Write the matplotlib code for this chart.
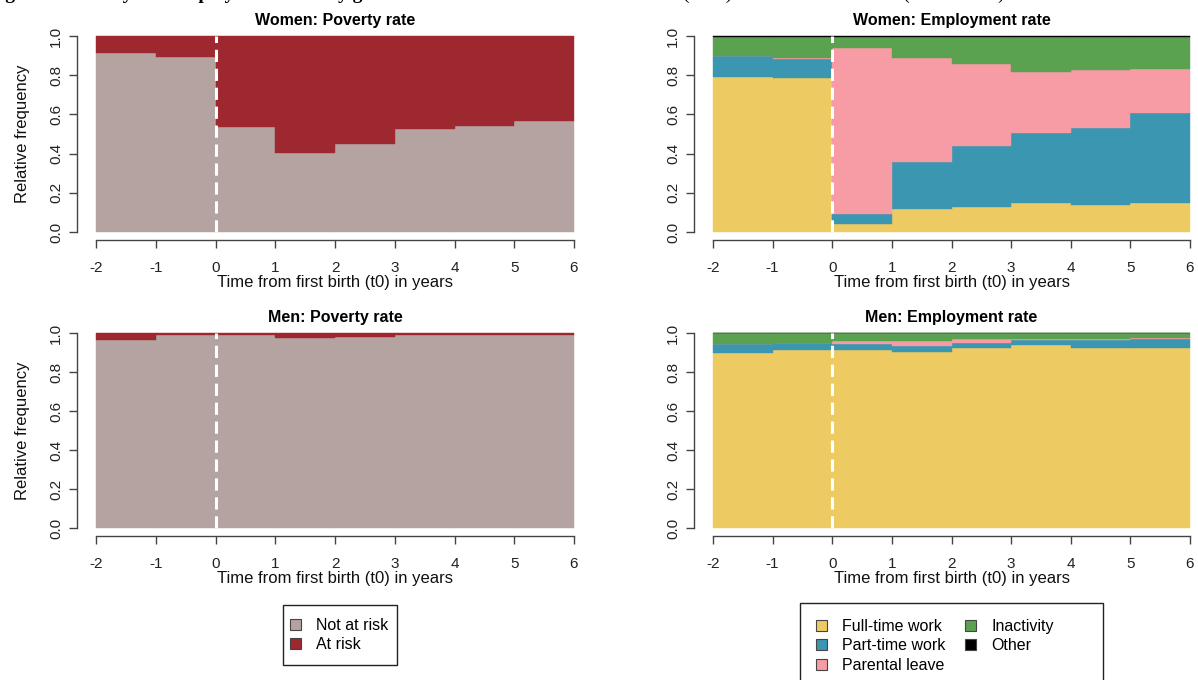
import matplotlib.pyplot as plt
from matplotlib.patches import Patch, Rectangle
import numpy as np

plt.rcParams['font.family'] = ['Liberation Sans', 'DejaVu Sans']

W, H = 1198, 680

years = [-2, -1, 0, 1, 2, 3, 4, 5]
xticks = [-2, -1, 0, 1, 2, 3, 4, 5, 6]

# poverty shares (not at risk / at risk)
women_not_risk = [0.911, 0.891, 0.537, 0.404, 0.451, 0.523, 0.540, 0.567]
women_risk = [0.089, 0.109, 0.463, 0.596, 0.549, 0.477, 0.460, 0.433]
men_not_risk = [0.966, 0.988, 0.988, 0.973, 0.978, 0.988, 0.988, 0.988]
men_risk = [0.034, 0.012, 0.012, 0.027, 0.022, 0.012, 0.012, 0.012]

# employment shares
women_ft = [0.792, 0.784, 0.043, 0.116, 0.128, 0.150, 0.140, 0.150]
women_pt = [0.106, 0.097, 0.047, 0.239, 0.310, 0.356, 0.392, 0.455]
women_pl = [0.000, 0.005, 0.847, 0.531, 0.417, 0.312, 0.294, 0.226]
women_inact = [0.099, 0.111, 0.060, 0.111, 0.142, 0.179, 0.171, 0.166]
women_other = [0.003, 0.003, 0.003, 0.003, 0.003, 0.003, 0.003, 0.003]

men_ft = [0.897, 0.915, 0.915, 0.901, 0.923, 0.937, 0.923, 0.923]
men_pt = [0.047, 0.034, 0.030, 0.031, 0.026, 0.025, 0.043, 0.048]
men_pl = [0.000, 0.000, 0.012, 0.025, 0.022, 0.009, 0.005, 0.002]
men_inact = [0.054, 0.049, 0.041, 0.041, 0.027, 0.027, 0.027, 0.025]
men_other = [0.002, 0.002, 0.002, 0.002, 0.002, 0.002, 0.002, 0.002]

pov_labels = ['Not at risk', 'At risk']
pov_colors = ['#b5a3a2', '#9e2830']
emp_labels = ['Full-time work', 'Part-time work', 'Parental leave', 'Inactivity', 'Other']
emp_colors = ['#eecb62', '#3a96b1', '#f79ba4', '#5aa150', '#000000']

XLIM = (-2.32, 6.32)
YLIM = (-0.04, 1.04)


def make_axes(fig, xm2, x6, y1, y0):
    # pixel positions of x=-2, x=6, y=1, y=0 -> axes rectangle
    sx = (x6 - xm2) / 8.0
    sy = (y0 - y1) / 1.0
    left = xm2 + (XLIM[0] + 2) * sx
    right = x6 + (XLIM[1] - 6) * sx
    top = y1 - (YLIM[1] - 1) * sy
    bot = y0 + (0 - YLIM[0]) * sy
    return fig.add_axes([left / W, 1 - bot / H, (right - left) / W, (bot - top) / H])


def stacked(ax, shares, colors, title, ylabel=True):
    bottom = np.zeros(len(years))
    for s, c in zip(shares, colors):
        ax.bar(years, s, width=1.0, align='edge', bottom=bottom, color=c,
               edgecolor=c, linewidth=0.3)
        bottom += np.array(s)
    ax.plot([0, 0], [0, 1], color='white', lw=2.2, ls=(0, (4, 2.2)))
    ax.set_xlim(*XLIM)
    ax.set_ylim(*YLIM)
    for s in ['top', 'right']:
        ax.spines[s].set_visible(False)
    ax.spines['left'].set_bounds(0, 1)
    ax.spines['bottom'].set_bounds(-2, 6)
    for s in ['left', 'bottom']:
        ax.spines[s].set_color('#444444')
        ax.spines[s].set_linewidth(1.0)
    ax.set_xticks(xticks)
    ax.set_xticklabels([str(t) for t in xticks])
    ax.set_yticks([0, 0.2, 0.4, 0.6, 0.8, 1.0])
    ax.set_yticklabels(['0.0', '0.2', '0.4', '0.6', '0.8', '1.0'], rotation=90, va='center')
    ax.tick_params(length=6, width=1, color='#444444', labelcolor='#222222',
                   labelsize=11, pad=4)
    ax.tick_params(axis='x', pad=9)
    ax.set_title(title, fontsize=11.5, fontweight='bold', pad=2)
    ax.set_xlabel('Time from first birth (t0) in years', fontsize=12, labelpad=0,
                  color='#111111')
    if ylabel:
        ax.set_ylabel('Relative frequency', fontsize=12, labelpad=14, color='#111111')


fig = plt.figure(figsize=(W / 100, H / 100), dpi=100)

ax1 = make_axes(fig, 96, 574, 36, 232)
stacked(ax1, [women_not_risk, women_risk], pov_colors, 'Women: Poverty rate')

ax2 = make_axes(fig, 713, 1190, 36, 232)
stacked(ax2, [women_ft, women_pt, women_pl, women_inact, women_other], emp_colors,
        'Women: Employment rate', ylabel=False)

ax3 = make_axes(fig, 96, 574, 333, 528)
stacked(ax3, [men_not_risk, men_risk], pov_colors, 'Men: Poverty rate')

ax4 = make_axes(fig, 713, 1190, 333, 528)
stacked(ax4, [men_ft, men_pt, men_pl, men_inact, men_other], emp_colors,
        'Men: Employment rate', ylabel=False)


def boxed_legend(handles, labels, x_handle, y_top, box, ncol=1):
    leg = fig.legend(handles, labels, loc='upper left', ncol=ncol,
                     bbox_to_anchor=(x_handle / W, 1 - y_top / H), fontsize=11.5,
                     frameon=False, handlelength=0.7, handleheight=0.7,
                     handletextpad=0.95, labelspacing=0.28, borderpad=0,
                     borderaxespad=0, columnspacing=1.2)
    x0, y0, x1, y1 = box
    fig.patches.append(Rectangle((x0 / W, 1 - y1 / H), (x1 - x0) / W, (y1 - y0) / H,
                                 transform=fig.transFigure, fill=False,
                                 edgecolor='#222222', linewidth=1.0))
    return leg


h_pov = [Patch(facecolor=c, edgecolor='#444444', linewidth=0.8) for c in pov_colors]
boxed_legend(h_pov, pov_labels, 290, 618, (283, 605, 397, 665))

h_emp = [Patch(facecolor=c, edgecolor='#444444', linewidth=0.8) for c in emp_colors]
boxed_legend(h_emp, emp_labels, 816, 619, (800, 603, 1103, 700), ncol=2)

# figure caption running off the top edge
fig.text(-12 / W, 1 + 1 / H, 'Figure 2. Poverty and employment rates by gender',
         family='Liberation Serif', fontweight='bold', fontsize=14, va='baseline')
fig.text(683 / W, 1 + 1 / H, '(in %) around the first birth (2010\u20132019)',
         family='Liberation Serif', fontsize=14, va='baseline')

fig.savefig('out.png', dpi=100)
